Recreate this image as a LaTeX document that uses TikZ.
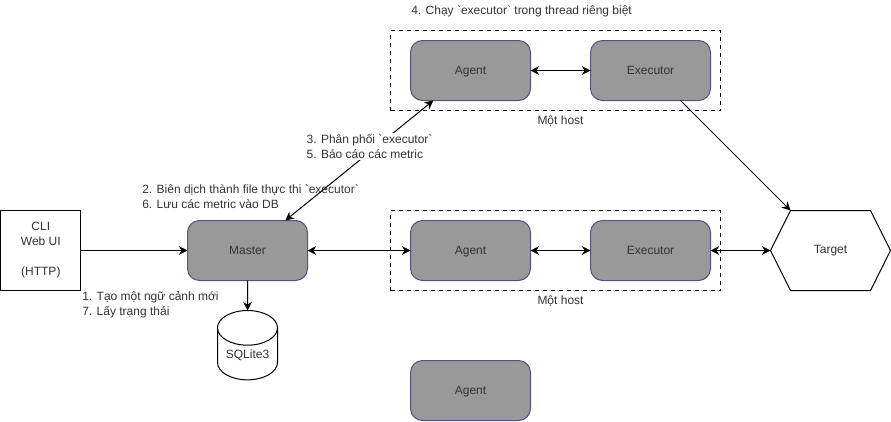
\documentclass[tikz,border=0pt]{standalone}
\usepackage{fontspec}
\setmainfont{Liberation Sans}[Ligatures=TeXOff]
\usepackage{xcolor}
\usepackage{tikz}
\usetikzlibrary{arrows.meta,positioning,calc,fit,shapes.geometric,shapes.symbols}
\definecolor{nodegray}{HTML}{999999}
\definecolor{nodeedge}{HTML}{56517E}
\definecolor{labelgray}{HTML}{333333}
\tikzset{
  basefont/.style={font=\fontsize{9}{11.25}\selectfont, text=labelgray},
  flowarrow/.style={-{Stealth[length=6.5pt,width=6.5pt]}, line width=0.75pt, draw=black},
  dualarrow/.style={{Stealth[length=6.5pt,width=6.5pt]}-{Stealth[length=6.5pt,width=6.5pt]}, line width=0.75pt, draw=black},
  proc/.style={draw=nodeedge, line width=0.75pt, rounded corners=9pt, fill=nodegray, outer sep=0pt,
    align=center, minimum width=90pt, minimum height=45pt, inner sep=0pt, text depth=0pt, basefont},
  client/.style={draw=black, line width=0.75pt, fill=white, align=center, outer sep=0pt,
    minimum width=60pt, minimum height=60pt, inner sep=0pt, basefont},
  hostbox/.style={draw=black, line width=0.6pt, dashed, inner sep=7.5pt, outer sep=0pt},
  store/.style={draw=black, line width=0.75pt, fill=white, cylinder, shape border rotate=90, outer sep=0pt,
    aspect=0.8, minimum width=45pt, minimum height=52pt, inner sep=0pt, text height=7pt, text depth=0pt, basefont},
  targetshape/.style={draw=black, line width=0.75pt, fill=white, signal, signal to=east and west, outer sep=0pt,
    signal pointer angle=126.87, minimum width=90pt, minimum height=60pt, inner sep=0pt, basefont},
  note/.style={align=left, anchor=west, inner sep=0pt, basefont},
  hostnote/.style={inner sep=0pt, xshift=3.75pt, basefont}
}
\begin{document}
\begin{tikzpicture}[x=0.75pt,y=-0.75pt,node distance=45pt]
        \useasboundingbox (0,0) rectangle (891,421);

        \node[proc] (master) at (247.5,250.5) {Master};
        \node[client, left=80pt of master] (cli) {CLI\\Web UI\\\\(HTTP)};
        \node[store, below=22.5pt of master] (db) {SQLite3};
        \node[proc, right=77.25pt of master] (agentb) {Agent};
        \node[proc, right=of agentb] (execb) {Executor};
        \node[targetshape, right=of execb] (target) {Target};
        \node[proc, above=90pt of agentb] (agenta) {Agent};
        \node[proc, right=of agenta] (execa) {Executor};
        \node[proc, below=60pt of agentb] (agentc) {Agent};

        % dashed host frames
        \coordinate[left=7.5pt of agenta.west] (hostawest);
        \coordinate[left=7.5pt of agentb.west] (hostbwest);
        \node[hostbox, fit=(hostawest)(agenta)(execa)] (hosta) {};
        \node[hostbox, fit=(hostbwest)(agentb)(execb)] (hostb) {};
        \node[hostnote, below=4pt of hosta] (hostalabel) {Một host};
        \node[hostnote, below=4pt of hostb] (hostblabel) {Một host};

        \node[note] (notecompile) at (142,196.5) {2. Biên dịch thành file thực thi `executor`\\6. Lưu các metric vào DB};
        \node[note] (notecontext) at (82,305) {1. Tạo một ngữ cảnh mới\\7. Lấy trạng thái};
        \node[note] (noterun) at (411,11.5) {4. Chạy `executor` trong thread riêng biệt};

        \coordinate (masterhit) at ($(master.north)!0.63!(master.north east)$);
        \coordinate (agenthit) at ($(agenta.south)!0.62!(agenta.south west)$);
        \coordinate (execout) at ($(execa.south)!0.5!(execa.south east)$);

        \draw[flowarrow] (cli) -- (master);
        \draw[flowarrow] (master) -- (db.top);
        \draw[dualarrow] (master) -- (agentb);
        \draw[dualarrow] (agentb) -- (execb);
        \draw[dualarrow] (execb) -- (target);
        \draw[dualarrow] (agenta) -- (execa);
        \draw[dualarrow] (masterhit) -- (agenthit);
        \draw[flowarrow] (execout) -- (target.north west);

        \node[note, fill=white, inner sep=1pt] (notedeploy) at (305,146.5) {3. Phân phối `executor`\\5. Báo cáo các metric};
    \end{tikzpicture}
\end{document}
